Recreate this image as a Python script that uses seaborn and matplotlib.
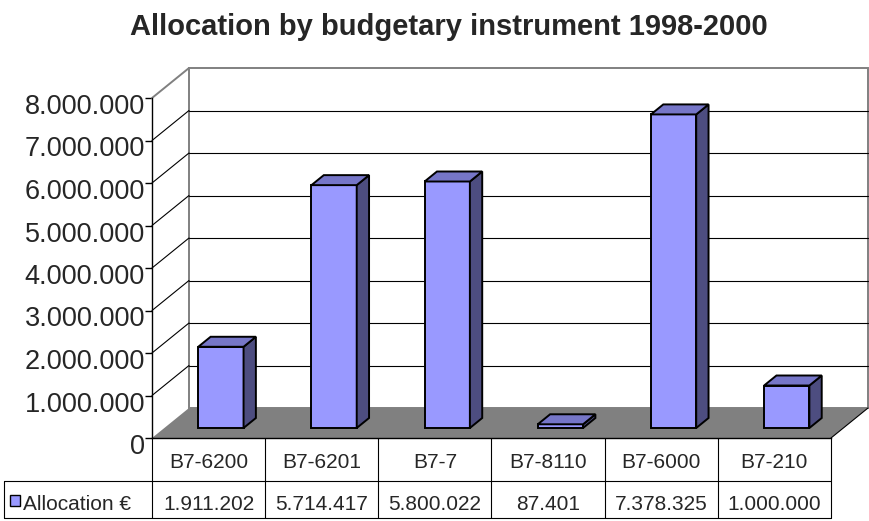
import matplotlib
matplotlib.use("Agg")
import matplotlib.pyplot as plt
from matplotlib.patches import Polygon, Rectangle
from matplotlib.lines import Line2D
from matplotlib import transforms
import seaborn as sns
import pandas as pd

# Data
categories = ["B7-6200", "B7-6201", "B7-7", "B7-8110", "B7-6000", "B7-210"]
allocation = [1911202, 5714417, 5800022, 87401, 7378325, 1000000]
y_ticks = [0, 1000000, 2000000, 3000000, 4000000, 5000000, 6000000, 7000000, 8000000]
series_name = "Allocation €"
title = "Allocation by budgetary instrument 1998-2000"


def dotted(v):
    return f"{v:,}".replace(",", ".")


FRONT = "#9999FF"
TOP = "#7676C8"
SIDE = "#4D4D80"
GRAY = "#808080"
DX, DY = 37, 30  # depth of the 3d box, in pixels

sns.set_theme(style="white")
plt.rcParams["font.family"] = ["Liberation Sans", "DejaVu Sans"]

W, H = 870, 521
fig = plt.figure(figsize=(W / 100, H / 100), dpi=100)
ax = fig.add_axes([152 / W, (H - 438) / H, 679 / W, 340 / H])
ax.patch.set_facecolor("none")

df = pd.DataFrame({"instrument": categories, "allocation": allocation})
sns.barplot(data=df, x="instrument", y="allocation", color=FRONT, saturation=1,
            width=0.4, edgecolor="black", linewidth=1.4, ax=ax, zorder=5)
bars = list(ax.patches)

ax.set_xlim(-0.5, 5.5)
ax.set_ylim(0, y_ticks[-1])
ax.set_xticks([])
ax.set_xlabel("")
ax.set_ylabel("")
ax.set_yticks(y_ticks)
ax.set_yticklabels([dotted(v) for v in y_ticks], fontsize=19.5)
ax.tick_params(axis="y", left=True, length=5, width=1, pad=0, color="black")
for s in ["top", "right"]:
    ax.spines[s].set_visible(False)
for s in ["left", "bottom"]:
    ax.spines[s].set_color("black")
    ax.spines[s].set_linewidth(1)
    ax.spines[s].set_zorder(6)
for lbl in ax.get_yticklabels():
    lbl.set_transform(lbl.get_transform() + transforms.ScaledTranslation(0, -0.06, fig.dpi_scale_trans))

ident = transforms.IdentityTransform()


def px(x, y, depth):
    p = ax.transData.transform((x, y))
    return (p[0] + depth * DX, p[1] + depth * DY)


def seg(p, q, color="black", lw=0.8, z=2):
    fig.add_artist(Line2D([p[0], q[0]], [p[1], q[1]], transform=ident, color=color, lw=lw, zorder=z))


x_lo, x_hi = -0.5, 5.5
top_v = y_ticks[-1]

# walls
ax.add_patch(Polygon([px(x_lo, 0, 1), px(x_hi, 0, 1), px(x_hi, top_v, 1), px(x_lo, top_v, 1)],
                     transform=ident, facecolor="white", edgecolor=GRAY, lw=1.4, clip_on=False, zorder=1))
for v in y_ticks[1:-1]:
    ax.add_line(Line2D(*zip(px(x_lo, v, 1), px(x_hi, v, 1)), transform=ident, color="black", lw=0.8,
                       clip_on=False, zorder=1.5))
    ax.add_line(Line2D(*zip(px(x_lo, v, 0), px(x_lo, v, 1)), transform=ident, color="black", lw=0.8,
                       clip_on=False, zorder=1.5))
ax.add_line(Line2D(*zip(px(x_lo, top_v, 0), px(x_lo, top_v, 1)), transform=ident, color=GRAY, lw=1.4,
                   clip_on=False, zorder=1.5))

# floor
ax.add_patch(Polygon([px(x_lo, 0, 0), px(x_hi, 0, 0), px(x_hi, 0, 1), px(x_lo, 0, 1)],
                     transform=ident, facecolor=GRAY, edgecolor="none", clip_on=False, zorder=2))
ax.add_line(Line2D(*zip(px(x_hi, 0, 0), px(x_hi, 0, 1)), transform=ident, color="black", lw=0.8,
                   clip_on=False, zorder=2.5))

# 3d bars
shift = transforms.offset_copy(ax.transData, fig=fig, x=DX / 3, y=DY / 3, units="dots")
for b in bars:
    x0, w, h = b.get_x(), b.get_width(), b.get_height()
    b.set_transform(shift)
    b.set_clip_on(False)
    side = [px(x0 + w, 0, 1 / 3), px(x0 + w, 0, 2 / 3), px(x0 + w, h, 2 / 3), px(x0 + w, h, 1 / 3)]
    top = [px(x0, h, 1 / 3), px(x0 + w, h, 1 / 3), px(x0 + w, h, 2 / 3), px(x0, h, 2 / 3)]
    for pts, c in [(side, SIDE), (top, TOP)]:
        ax.add_patch(Polygon(pts, transform=ident, facecolor=c, edgecolor="black", lw=1.4,
                             joinstyle="miter", clip_on=False, zorder=5))

# data table
def iy(y):
    return H - y


t_top, t_mid, t_bot, t_left = 438, 481, 518, 4
x_right = px(x_hi, 0, 0)[0]
for k in range(len(categories) + 1):
    xb = px(k - 0.5, 0, 0)[0]
    seg((xb, iy(t_top)), (xb, iy(t_bot)), lw=0.8)
seg((t_left, iy(t_mid)), (x_right, iy(t_mid)), lw=0.8)
seg((t_left, iy(t_bot)), (x_right, iy(t_bot)), lw=0.8)
seg((t_left, iy(t_mid)), (t_left, iy(t_bot)), lw=0.8)

for k, (cat, val) in enumerate(zip(categories, allocation)):
    xc = px(k, 0, 0)[0]
    fig.text(xc, iy(462), cat, transform=ident, ha="center", va="center", fontsize=15)
    fig.text(xc, iy(504), dotted(val), transform=ident, ha="center", va="center", fontsize=15)

fig.add_artist(Rectangle((10, iy(506)), 10, 11, transform=ident, facecolor=FRONT, edgecolor="black", lw=1))
fig.text(23, iy(504), series_name, transform=ident, ha="left", va="center", fontsize=15)

fig.text(449 / W, 1 - 27 / H, title, ha="center", va="center", fontsize=21, fontweight="bold")

fig.savefig("out.png", dpi=100)
